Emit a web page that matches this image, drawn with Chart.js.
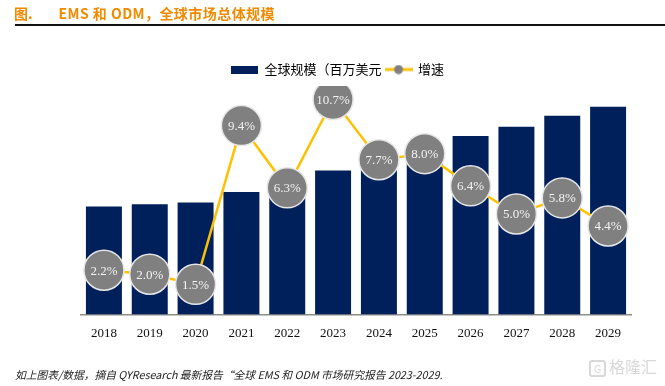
<!DOCTYPE html>
<html>
<head>
<meta charset="utf-8">
<script src="https://cdn.jsdelivr.net/npm/chart.js@4/dist/chart.umd.min.js"></script>
<style>
  html,body{margin:0;padding:0;background:#fff;}
  #wrap{position:relative;width:665px;height:386px;overflow:hidden;}
  #c{position:absolute;left:0;top:0;}
  #title{position:absolute;left:14px;top:3px;font:bold 14px "Noto Sans CJK SC",sans-serif;color:#F28A00;white-space:pre;line-height:20px;}
  #title .t2{margin-left:26px;letter-spacing:0.45px;}
  #rule{position:absolute;left:15px;top:24px;width:650px;height:2px;background:#111;}
  #foot{position:absolute;left:15px;top:367px;font:italic 10.75px "Noto Sans CJK SC",sans-serif;color:#222;white-space:pre;line-height:16px;}
  #wm{position:absolute;left:589px;top:357px;font:16px "Noto Sans CJK SC",sans-serif;color:#d8d8d8;line-height:18px;white-space:pre;}
  #wm span{display:inline-block;border:2px solid #d8d8d8;border-radius:3px;width:13px;height:13px;font-size:11px;line-height:13px;text-align:center;margin-right:3px;vertical-align:0px;}
</style>
</head>
<body>
<div id="wrap">
  <canvas id="c" width="665" height="386"></canvas>
  <div id="title"><span>图.</span><span class="t2">EMS 和 ODM，全球市场总体规模</span></div>
  <div id="rule"></div>
  <div id="foot">如上图表/数据，摘自 QYResearch 最新报告“全球 EMS 和 ODM 市场研究报告 2023-2029.</div>
  <div id="wm"><span>G</span>格隆汇</div>
</div>
<script>
// Data
const years = ['2018','2019','2020','2021','2022','2023','2024','2025','2026','2027','2028','2029'];
const marketSize = [540, 551, 559, 612, 651, 720, 776, 838, 892, 938, 993, 1038]; // 全球规模（百万美元，estimated relative scale)
const growthRate = [2.2, 2.0, 1.5, 9.4, 6.3, 10.7, 7.7, 8.0, 6.4, 5.0, 5.8, 4.4]; // 增速 %
const seriesNames = ['全球规模（百万美元', '增速'];

const NAVY = '#00205B';
const GOLD = '#FFC000';
const DOT = '#808080';

function iconBar(){
  const c = document.createElement('canvas'); c.width = 27; c.height = 8;
  const x = c.getContext('2d'); x.fillStyle = NAVY; x.fillRect(0,0,27,8); return c;
}
function iconLine(){
  const c = document.createElement('canvas'); c.width = 28; c.height = 10;
  const x = c.getContext('2d');
  x.strokeStyle = GOLD; x.lineWidth = 3; x.beginPath(); x.moveTo(0,5); x.lineTo(28,5); x.stroke();
  x.fillStyle = DOT; x.beginPath(); x.arc(14,5,4.5,0,Math.PI*2); x.fill(); return c;
}
const icons = [iconBar(), iconLine()];

const labelPlugin = {
  id: 'pctLabels',
  afterDatasetsDraw(chart){
    const meta = chart.getDatasetMeta(1);
    const ctx = chart.ctx;
    ctx.save();
    ctx.font = '13px "Liberation Serif", "Times New Roman", serif';
    ctx.fillStyle = '#f2f2f2';
    ctx.textAlign = 'center';
    ctx.textBaseline = 'middle';
    meta.data.forEach((pt, i) => {
      ctx.fillText(growthRate[i].toFixed(1) + '%', pt.x, pt.y + 1);
    });
    ctx.restore();
  }
};

const legendShift = {
  id: 'legendShift',
  afterLayout(chart){
    if (chart.legend) { chart.legend.left -= 18; chart.legend.right -= 18; }
  }
};

new Chart(document.getElementById('c'), {
  data: {
    labels: years,
    datasets: [
      {
        type: 'bar', label: seriesNames[0], data: marketSize, yAxisID: 'y',
        backgroundColor: NAVY, borderWidth: 0, order: 1,
        barPercentage: 0.785, categoryPercentage: 1.0
      },
      {
        type: 'line', label: seriesNames[1], data: growthRate, yAxisID: 'y1',
        borderColor: GOLD, borderWidth: 2.5, tension: 0,
        pointRadius: 20, pointHoverRadius: 20,
        pointBackgroundColor: DOT, pointBorderColor: '#e6e6e6', pointBorderWidth: 1.5,
        order: 0
      }
    ]
  },
  options: {
    responsive: false,
    animation: false,
    events: [],
    layout: { padding: { left: 81, right: 34, top: 59, bottom: 34 } },
    plugins: {
      tooltip: { enabled: false },
      legend: {
        position: 'top',
        labels: {
          font: { size: 13, family: '"Noto Sans CJK SC", sans-serif' },
          color: '#222',
          padding: 4,
          usePointStyle: true,
          pointStyleWidth: 26,
          generateLabels: () => seriesNames.map((n, i) => ({
            text: n, pointStyle: icons[i], datasetIndex: i, hidden: false,
            fillStyle: 'transparent', strokeStyle: 'transparent', lineWidth: 0
          }))
        }
      }
    },
    scales: {
      x: {
        grid: { display: false, drawTicks: false },
        border: { display: true, color: '#8c8c8c', width: 1.5 },
        ticks: {
          color: '#111', padding: 11,
          font: { size: 13, family: '"Liberation Serif", "Times New Roman", serif' }
        }
      },
      y: { display: false, min: 0, max: 1142 },
      y1: { display: false, min: 0, max: 11.37, position: 'right' }
    }
  },
  plugins: [labelPlugin, legendShift]
});
</script>
</body>
</html>
